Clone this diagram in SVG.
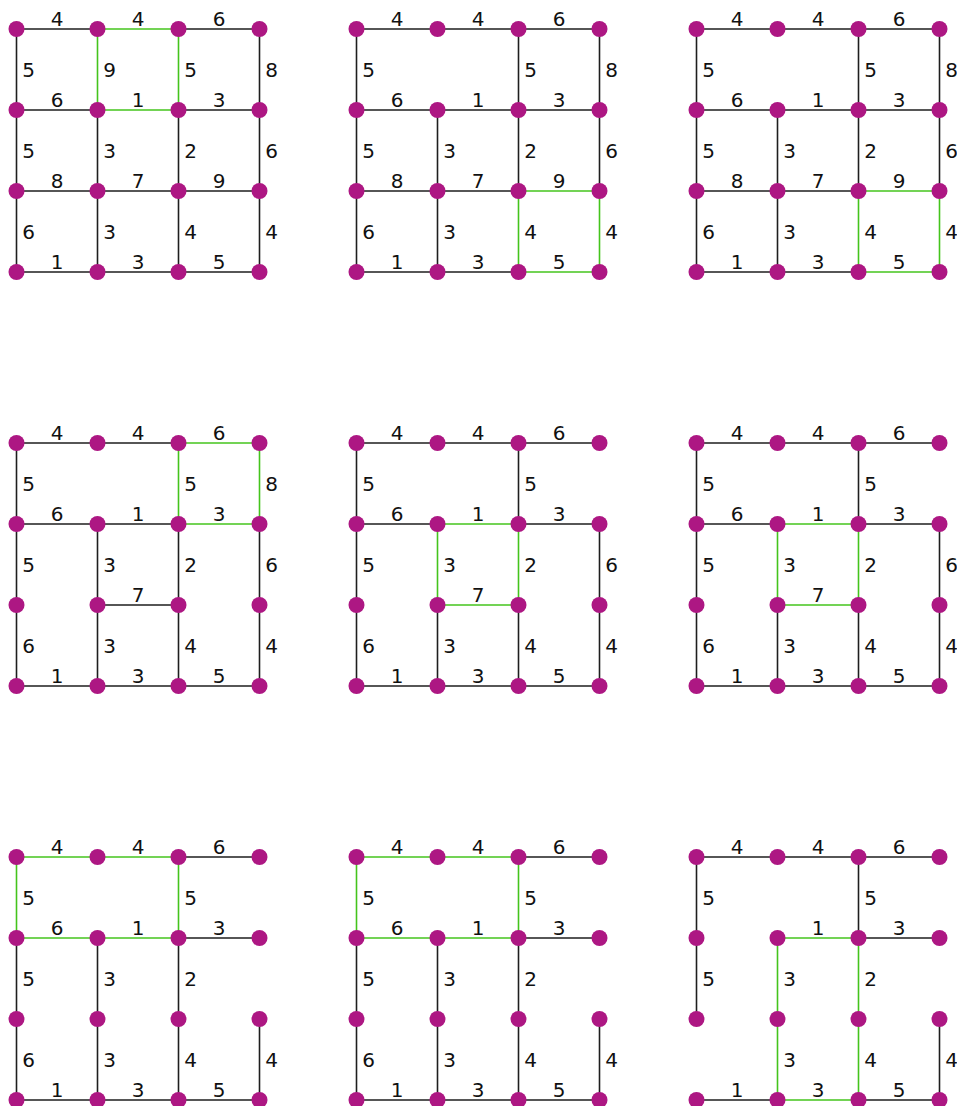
<svg xmlns="http://www.w3.org/2000/svg" width="957" height="1106" viewBox="0 0 957 1106">
<style>
.e{stroke:#1e1e1e;stroke-width:1.6;fill:none}
.g{stroke:#44c41c;stroke-width:1.6;fill:none}
.n{fill:#ad1783}
text{font-family:"DejaVu Sans","Liberation Sans",sans-serif;font-size:20px;fill:#111;text-anchor:middle}
</style>
<rect width="957" height="1106" fill="#fff"/>

<!-- Panel 1 -->
<g id="panel1" transform="translate(0,0)">
<g id="p1-connectors">
<path class="e" d="M16.5 29H97.5"/><text x="57" y="26">4</text>
<path class="g" d="M97.5 29H178.5"/><text x="138" y="26">4</text>
<path class="e" d="M178.5 29H259.5"/><text x="219" y="26">6</text>
<path class="e" d="M16.5 110H97.5"/><text x="57" y="107">6</text>
<path class="g" d="M97.5 110H178.5"/><text x="138" y="107">1</text>
<path class="e" d="M178.5 110H259.5"/><text x="219" y="107">3</text>
<path class="e" d="M16.5 191H97.5"/><text x="57" y="188">8</text>
<path class="e" d="M97.5 191H178.5"/><text x="138" y="188">7</text>
<path class="e" d="M178.5 191H259.5"/><text x="219" y="188">9</text>
<path class="e" d="M16.5 272H97.5"/><text x="57" y="269">1</text>
<path class="e" d="M97.5 272H178.5"/><text x="138" y="269">3</text>
<path class="e" d="M178.5 272H259.5"/><text x="219" y="269">5</text>
<path class="e" d="M16.5 29V110"/><text x="28.5" y="76.5">5</text>
<path class="g" d="M97.5 29V110"/><text x="109.5" y="76.5">9</text>
<path class="g" d="M178.5 29V110"/><text x="190.5" y="76.5">5</text>
<path class="e" d="M259.5 29V110"/><text x="271.5" y="76.5">8</text>
<path class="e" d="M16.5 110V191"/><text x="28.5" y="157.5">5</text>
<path class="e" d="M97.5 110V191"/><text x="109.5" y="157.5">3</text>
<path class="e" d="M178.5 110V191"/><text x="190.5" y="157.5">2</text>
<path class="e" d="M259.5 110V191"/><text x="271.5" y="157.5">6</text>
<path class="e" d="M16.5 191V272"/><text x="28.5" y="238.5">6</text>
<path class="e" d="M97.5 191V272"/><text x="109.5" y="238.5">3</text>
<path class="e" d="M178.5 191V272"/><text x="190.5" y="238.5">4</text>
<path class="e" d="M259.5 191V272"/><text x="271.5" y="238.5">4</text>
</g>
<g id="p1-n00"><circle class="n" cx="16.5" cy="29" r="8"/></g>
<g id="p1-n01"><circle class="n" cx="97.5" cy="29" r="8"/></g>
<g id="p1-n02"><circle class="n" cx="178.5" cy="29" r="8"/></g>
<g id="p1-n03"><circle class="n" cx="259.5" cy="29" r="8"/></g>
<g id="p1-n10"><circle class="n" cx="16.5" cy="110" r="8"/></g>
<g id="p1-n11"><circle class="n" cx="97.5" cy="110" r="8"/></g>
<g id="p1-n12"><circle class="n" cx="178.5" cy="110" r="8"/></g>
<g id="p1-n13"><circle class="n" cx="259.5" cy="110" r="8"/></g>
<g id="p1-n20"><circle class="n" cx="16.5" cy="191" r="8"/></g>
<g id="p1-n21"><circle class="n" cx="97.5" cy="191" r="8"/></g>
<g id="p1-n22"><circle class="n" cx="178.5" cy="191" r="8"/></g>
<g id="p1-n23"><circle class="n" cx="259.5" cy="191" r="8"/></g>
<g id="p1-n30"><circle class="n" cx="16.5" cy="272" r="8"/></g>
<g id="p1-n31"><circle class="n" cx="97.5" cy="272" r="8"/></g>
<g id="p1-n32"><circle class="n" cx="178.5" cy="272" r="8"/></g>
<g id="p1-n33"><circle class="n" cx="259.5" cy="272" r="8"/></g>
</g>

<!-- Panel 2 -->
<g id="panel2" transform="translate(340,0)">
<g id="p2-connectors">
<path class="e" d="M16.5 29H97.5"/><text x="57" y="26">4</text>
<path class="e" d="M97.5 29H178.5"/><text x="138" y="26">4</text>
<path class="e" d="M178.5 29H259.5"/><text x="219" y="26">6</text>
<path class="e" d="M16.5 110H97.5"/><text x="57" y="107">6</text>
<path class="e" d="M97.5 110H178.5"/><text x="138" y="107">1</text>
<path class="e" d="M178.5 110H259.5"/><text x="219" y="107">3</text>
<path class="e" d="M16.5 191H97.5"/><text x="57" y="188">8</text>
<path class="e" d="M97.5 191H178.5"/><text x="138" y="188">7</text>
<path class="g" d="M178.5 191H259.5"/><text x="219" y="188">9</text>
<path class="e" d="M16.5 272H97.5"/><text x="57" y="269">1</text>
<path class="e" d="M97.5 272H178.5"/><text x="138" y="269">3</text>
<path class="g" d="M178.5 272H259.5"/><text x="219" y="269">5</text>
<path class="e" d="M16.5 29V110"/><text x="28.5" y="76.5">5</text>
<path class="e" d="M178.5 29V110"/><text x="190.5" y="76.5">5</text>
<path class="e" d="M259.5 29V110"/><text x="271.5" y="76.5">8</text>
<path class="e" d="M16.5 110V191"/><text x="28.5" y="157.5">5</text>
<path class="e" d="M97.5 110V191"/><text x="109.5" y="157.5">3</text>
<path class="e" d="M178.5 110V191"/><text x="190.5" y="157.5">2</text>
<path class="e" d="M259.5 110V191"/><text x="271.5" y="157.5">6</text>
<path class="e" d="M16.5 191V272"/><text x="28.5" y="238.5">6</text>
<path class="e" d="M97.5 191V272"/><text x="109.5" y="238.5">3</text>
<path class="g" d="M178.5 191V272"/><text x="190.5" y="238.5">4</text>
<path class="g" d="M259.5 191V272"/><text x="271.5" y="238.5">4</text>
</g>
<g id="p2-n00"><circle class="n" cx="16.5" cy="29" r="8"/></g>
<g id="p2-n01"><circle class="n" cx="97.5" cy="29" r="8"/></g>
<g id="p2-n02"><circle class="n" cx="178.5" cy="29" r="8"/></g>
<g id="p2-n03"><circle class="n" cx="259.5" cy="29" r="8"/></g>
<g id="p2-n10"><circle class="n" cx="16.5" cy="110" r="8"/></g>
<g id="p2-n11"><circle class="n" cx="97.5" cy="110" r="8"/></g>
<g id="p2-n12"><circle class="n" cx="178.5" cy="110" r="8"/></g>
<g id="p2-n13"><circle class="n" cx="259.5" cy="110" r="8"/></g>
<g id="p2-n20"><circle class="n" cx="16.5" cy="191" r="8"/></g>
<g id="p2-n21"><circle class="n" cx="97.5" cy="191" r="8"/></g>
<g id="p2-n22"><circle class="n" cx="178.5" cy="191" r="8"/></g>
<g id="p2-n23"><circle class="n" cx="259.5" cy="191" r="8"/></g>
<g id="p2-n30"><circle class="n" cx="16.5" cy="272" r="8"/></g>
<g id="p2-n31"><circle class="n" cx="97.5" cy="272" r="8"/></g>
<g id="p2-n32"><circle class="n" cx="178.5" cy="272" r="8"/></g>
<g id="p2-n33"><circle class="n" cx="259.5" cy="272" r="8"/></g>
</g>

<!-- Panel 3 -->
<g id="panel3" transform="translate(680,0)">
<g id="p3-connectors">
<path class="e" d="M16.5 29H97.5"/><text x="57" y="26">4</text>
<path class="e" d="M97.5 29H178.5"/><text x="138" y="26">4</text>
<path class="e" d="M178.5 29H259.5"/><text x="219" y="26">6</text>
<path class="e" d="M16.5 110H97.5"/><text x="57" y="107">6</text>
<path class="e" d="M97.5 110H178.5"/><text x="138" y="107">1</text>
<path class="e" d="M178.5 110H259.5"/><text x="219" y="107">3</text>
<path class="e" d="M16.5 191H97.5"/><text x="57" y="188">8</text>
<path class="e" d="M97.5 191H178.5"/><text x="138" y="188">7</text>
<path class="g" d="M178.5 191H259.5"/><text x="219" y="188">9</text>
<path class="e" d="M16.5 272H97.5"/><text x="57" y="269">1</text>
<path class="e" d="M97.5 272H178.5"/><text x="138" y="269">3</text>
<path class="g" d="M178.5 272H259.5"/><text x="219" y="269">5</text>
<path class="e" d="M16.5 29V110"/><text x="28.5" y="76.5">5</text>
<path class="e" d="M178.5 29V110"/><text x="190.5" y="76.5">5</text>
<path class="e" d="M259.5 29V110"/><text x="271.5" y="76.5">8</text>
<path class="e" d="M16.5 110V191"/><text x="28.5" y="157.5">5</text>
<path class="e" d="M97.5 110V191"/><text x="109.5" y="157.5">3</text>
<path class="e" d="M178.5 110V191"/><text x="190.5" y="157.5">2</text>
<path class="e" d="M259.5 110V191"/><text x="271.5" y="157.5">6</text>
<path class="e" d="M16.5 191V272"/><text x="28.5" y="238.5">6</text>
<path class="e" d="M97.5 191V272"/><text x="109.5" y="238.5">3</text>
<path class="g" d="M178.5 191V272"/><text x="190.5" y="238.5">4</text>
<path class="g" d="M259.5 191V272"/><text x="271.5" y="238.5">4</text>
</g>
<g id="p3-n00"><circle class="n" cx="16.5" cy="29" r="8"/></g>
<g id="p3-n01"><circle class="n" cx="97.5" cy="29" r="8"/></g>
<g id="p3-n02"><circle class="n" cx="178.5" cy="29" r="8"/></g>
<g id="p3-n03"><circle class="n" cx="259.5" cy="29" r="8"/></g>
<g id="p3-n10"><circle class="n" cx="16.5" cy="110" r="8"/></g>
<g id="p3-n11"><circle class="n" cx="97.5" cy="110" r="8"/></g>
<g id="p3-n12"><circle class="n" cx="178.5" cy="110" r="8"/></g>
<g id="p3-n13"><circle class="n" cx="259.5" cy="110" r="8"/></g>
<g id="p3-n20"><circle class="n" cx="16.5" cy="191" r="8"/></g>
<g id="p3-n21"><circle class="n" cx="97.5" cy="191" r="8"/></g>
<g id="p3-n22"><circle class="n" cx="178.5" cy="191" r="8"/></g>
<g id="p3-n23"><circle class="n" cx="259.5" cy="191" r="8"/></g>
<g id="p3-n30"><circle class="n" cx="16.5" cy="272" r="8"/></g>
<g id="p3-n31"><circle class="n" cx="97.5" cy="272" r="8"/></g>
<g id="p3-n32"><circle class="n" cx="178.5" cy="272" r="8"/></g>
<g id="p3-n33"><circle class="n" cx="259.5" cy="272" r="8"/></g>
</g>

<!-- Panel 4 -->
<g id="panel4" transform="translate(0,414)">
<g id="p4-connectors">
<path class="e" d="M16.5 29H97.5"/><text x="57" y="26">4</text>
<path class="e" d="M97.5 29H178.5"/><text x="138" y="26">4</text>
<path class="g" d="M178.5 29H259.5"/><text x="219" y="26">6</text>
<path class="e" d="M16.5 110H97.5"/><text x="57" y="107">6</text>
<path class="e" d="M97.5 110H178.5"/><text x="138" y="107">1</text>
<path class="g" d="M178.5 110H259.5"/><text x="219" y="107">3</text>
<path class="e" d="M97.5 191H178.5"/><text x="138" y="188">7</text>
<path class="e" d="M16.5 272H97.5"/><text x="57" y="269">1</text>
<path class="e" d="M97.5 272H178.5"/><text x="138" y="269">3</text>
<path class="e" d="M178.5 272H259.5"/><text x="219" y="269">5</text>
<path class="e" d="M16.5 29V110"/><text x="28.5" y="76.5">5</text>
<path class="g" d="M178.5 29V110"/><text x="190.5" y="76.5">5</text>
<path class="g" d="M259.5 29V110"/><text x="271.5" y="76.5">8</text>
<path class="e" d="M16.5 110V191"/><text x="28.5" y="157.5">5</text>
<path class="e" d="M97.5 110V191"/><text x="109.5" y="157.5">3</text>
<path class="e" d="M178.5 110V191"/><text x="190.5" y="157.5">2</text>
<path class="e" d="M259.5 110V191"/><text x="271.5" y="157.5">6</text>
<path class="e" d="M16.5 191V272"/><text x="28.5" y="238.5">6</text>
<path class="e" d="M97.5 191V272"/><text x="109.5" y="238.5">3</text>
<path class="e" d="M178.5 191V272"/><text x="190.5" y="238.5">4</text>
<path class="e" d="M259.5 191V272"/><text x="271.5" y="238.5">4</text>
</g>
<g id="p4-n00"><circle class="n" cx="16.5" cy="29" r="8"/></g>
<g id="p4-n01"><circle class="n" cx="97.5" cy="29" r="8"/></g>
<g id="p4-n02"><circle class="n" cx="178.5" cy="29" r="8"/></g>
<g id="p4-n03"><circle class="n" cx="259.5" cy="29" r="8"/></g>
<g id="p4-n10"><circle class="n" cx="16.5" cy="110" r="8"/></g>
<g id="p4-n11"><circle class="n" cx="97.5" cy="110" r="8"/></g>
<g id="p4-n12"><circle class="n" cx="178.5" cy="110" r="8"/></g>
<g id="p4-n13"><circle class="n" cx="259.5" cy="110" r="8"/></g>
<g id="p4-n20"><circle class="n" cx="16.5" cy="191" r="8"/></g>
<g id="p4-n21"><circle class="n" cx="97.5" cy="191" r="8"/></g>
<g id="p4-n22"><circle class="n" cx="178.5" cy="191" r="8"/></g>
<g id="p4-n23"><circle class="n" cx="259.5" cy="191" r="8"/></g>
<g id="p4-n30"><circle class="n" cx="16.5" cy="272" r="8"/></g>
<g id="p4-n31"><circle class="n" cx="97.5" cy="272" r="8"/></g>
<g id="p4-n32"><circle class="n" cx="178.5" cy="272" r="8"/></g>
<g id="p4-n33"><circle class="n" cx="259.5" cy="272" r="8"/></g>
</g>

<!-- Panel 5 -->
<g id="panel5" transform="translate(340,414)">
<g id="p5-connectors">
<path class="e" d="M16.5 29H97.5"/><text x="57" y="26">4</text>
<path class="e" d="M97.5 29H178.5"/><text x="138" y="26">4</text>
<path class="e" d="M178.5 29H259.5"/><text x="219" y="26">6</text>
<path class="e" d="M16.5 110H97.5"/><text x="57" y="107">6</text>
<path class="g" d="M97.5 110H178.5"/><text x="138" y="107">1</text>
<path class="e" d="M178.5 110H259.5"/><text x="219" y="107">3</text>
<path class="g" d="M97.5 191H178.5"/><text x="138" y="188">7</text>
<path class="e" d="M16.5 272H97.5"/><text x="57" y="269">1</text>
<path class="e" d="M97.5 272H178.5"/><text x="138" y="269">3</text>
<path class="e" d="M178.5 272H259.5"/><text x="219" y="269">5</text>
<path class="e" d="M16.5 29V110"/><text x="28.5" y="76.5">5</text>
<path class="e" d="M178.5 29V110"/><text x="190.5" y="76.5">5</text>
<path class="e" d="M16.5 110V191"/><text x="28.5" y="157.5">5</text>
<path class="g" d="M97.5 110V191"/><text x="109.5" y="157.5">3</text>
<path class="g" d="M178.5 110V191"/><text x="190.5" y="157.5">2</text>
<path class="e" d="M259.5 110V191"/><text x="271.5" y="157.5">6</text>
<path class="e" d="M16.5 191V272"/><text x="28.5" y="238.5">6</text>
<path class="e" d="M97.5 191V272"/><text x="109.5" y="238.5">3</text>
<path class="e" d="M178.5 191V272"/><text x="190.5" y="238.5">4</text>
<path class="e" d="M259.5 191V272"/><text x="271.5" y="238.5">4</text>
</g>
<g id="p5-n00"><circle class="n" cx="16.5" cy="29" r="8"/></g>
<g id="p5-n01"><circle class="n" cx="97.5" cy="29" r="8"/></g>
<g id="p5-n02"><circle class="n" cx="178.5" cy="29" r="8"/></g>
<g id="p5-n03"><circle class="n" cx="259.5" cy="29" r="8"/></g>
<g id="p5-n10"><circle class="n" cx="16.5" cy="110" r="8"/></g>
<g id="p5-n11"><circle class="n" cx="97.5" cy="110" r="8"/></g>
<g id="p5-n12"><circle class="n" cx="178.5" cy="110" r="8"/></g>
<g id="p5-n13"><circle class="n" cx="259.5" cy="110" r="8"/></g>
<g id="p5-n20"><circle class="n" cx="16.5" cy="191" r="8"/></g>
<g id="p5-n21"><circle class="n" cx="97.5" cy="191" r="8"/></g>
<g id="p5-n22"><circle class="n" cx="178.5" cy="191" r="8"/></g>
<g id="p5-n23"><circle class="n" cx="259.5" cy="191" r="8"/></g>
<g id="p5-n30"><circle class="n" cx="16.5" cy="272" r="8"/></g>
<g id="p5-n31"><circle class="n" cx="97.5" cy="272" r="8"/></g>
<g id="p5-n32"><circle class="n" cx="178.5" cy="272" r="8"/></g>
<g id="p5-n33"><circle class="n" cx="259.5" cy="272" r="8"/></g>
</g>

<!-- Panel 6 -->
<g id="panel6" transform="translate(680,414)">
<g id="p6-connectors">
<path class="e" d="M16.5 29H97.5"/><text x="57" y="26">4</text>
<path class="e" d="M97.5 29H178.5"/><text x="138" y="26">4</text>
<path class="e" d="M178.5 29H259.5"/><text x="219" y="26">6</text>
<path class="e" d="M16.5 110H97.5"/><text x="57" y="107">6</text>
<path class="g" d="M97.5 110H178.5"/><text x="138" y="107">1</text>
<path class="e" d="M178.5 110H259.5"/><text x="219" y="107">3</text>
<path class="g" d="M97.5 191H178.5"/><text x="138" y="188">7</text>
<path class="e" d="M16.5 272H97.5"/><text x="57" y="269">1</text>
<path class="e" d="M97.5 272H178.5"/><text x="138" y="269">3</text>
<path class="e" d="M178.5 272H259.5"/><text x="219" y="269">5</text>
<path class="e" d="M16.5 29V110"/><text x="28.5" y="76.5">5</text>
<path class="e" d="M178.5 29V110"/><text x="190.5" y="76.5">5</text>
<path class="e" d="M16.5 110V191"/><text x="28.5" y="157.5">5</text>
<path class="g" d="M97.5 110V191"/><text x="109.5" y="157.5">3</text>
<path class="g" d="M178.5 110V191"/><text x="190.5" y="157.5">2</text>
<path class="e" d="M259.5 110V191"/><text x="271.5" y="157.5">6</text>
<path class="e" d="M16.5 191V272"/><text x="28.5" y="238.5">6</text>
<path class="e" d="M97.5 191V272"/><text x="109.5" y="238.5">3</text>
<path class="e" d="M178.5 191V272"/><text x="190.5" y="238.5">4</text>
<path class="e" d="M259.5 191V272"/><text x="271.5" y="238.5">4</text>
</g>
<g id="p6-n00"><circle class="n" cx="16.5" cy="29" r="8"/></g>
<g id="p6-n01"><circle class="n" cx="97.5" cy="29" r="8"/></g>
<g id="p6-n02"><circle class="n" cx="178.5" cy="29" r="8"/></g>
<g id="p6-n03"><circle class="n" cx="259.5" cy="29" r="8"/></g>
<g id="p6-n10"><circle class="n" cx="16.5" cy="110" r="8"/></g>
<g id="p6-n11"><circle class="n" cx="97.5" cy="110" r="8"/></g>
<g id="p6-n12"><circle class="n" cx="178.5" cy="110" r="8"/></g>
<g id="p6-n13"><circle class="n" cx="259.5" cy="110" r="8"/></g>
<g id="p6-n20"><circle class="n" cx="16.5" cy="191" r="8"/></g>
<g id="p6-n21"><circle class="n" cx="97.5" cy="191" r="8"/></g>
<g id="p6-n22"><circle class="n" cx="178.5" cy="191" r="8"/></g>
<g id="p6-n23"><circle class="n" cx="259.5" cy="191" r="8"/></g>
<g id="p6-n30"><circle class="n" cx="16.5" cy="272" r="8"/></g>
<g id="p6-n31"><circle class="n" cx="97.5" cy="272" r="8"/></g>
<g id="p6-n32"><circle class="n" cx="178.5" cy="272" r="8"/></g>
<g id="p6-n33"><circle class="n" cx="259.5" cy="272" r="8"/></g>
</g>

<!-- Panel 7 -->
<g id="panel7" transform="translate(0,828)">
<g id="p7-connectors">
<path class="g" d="M16.5 29H97.5"/><text x="57" y="26">4</text>
<path class="g" d="M97.5 29H178.5"/><text x="138" y="26">4</text>
<path class="e" d="M178.5 29H259.5"/><text x="219" y="26">6</text>
<path class="g" d="M16.5 110H97.5"/><text x="57" y="107">6</text>
<path class="g" d="M97.5 110H178.5"/><text x="138" y="107">1</text>
<path class="e" d="M178.5 110H259.5"/><text x="219" y="107">3</text>
<path class="e" d="M16.5 272H97.5"/><text x="57" y="269">1</text>
<path class="e" d="M97.5 272H178.5"/><text x="138" y="269">3</text>
<path class="e" d="M178.5 272H259.5"/><text x="219" y="269">5</text>
<path class="g" d="M16.5 29V110"/><text x="28.5" y="76.5">5</text>
<path class="g" d="M178.5 29V110"/><text x="190.5" y="76.5">5</text>
<path class="e" d="M16.5 110V191"/><text x="28.5" y="157.5">5</text>
<path class="e" d="M97.5 110V191"/><text x="109.5" y="157.5">3</text>
<path class="e" d="M178.5 110V191"/><text x="190.5" y="157.5">2</text>
<path class="e" d="M16.5 191V272"/><text x="28.5" y="238.5">6</text>
<path class="e" d="M97.5 191V272"/><text x="109.5" y="238.5">3</text>
<path class="e" d="M178.5 191V272"/><text x="190.5" y="238.5">4</text>
<path class="e" d="M259.5 191V272"/><text x="271.5" y="238.5">4</text>
</g>
<g id="p7-n00"><circle class="n" cx="16.5" cy="29" r="8"/></g>
<g id="p7-n01"><circle class="n" cx="97.5" cy="29" r="8"/></g>
<g id="p7-n02"><circle class="n" cx="178.5" cy="29" r="8"/></g>
<g id="p7-n03"><circle class="n" cx="259.5" cy="29" r="8"/></g>
<g id="p7-n10"><circle class="n" cx="16.5" cy="110" r="8"/></g>
<g id="p7-n11"><circle class="n" cx="97.5" cy="110" r="8"/></g>
<g id="p7-n12"><circle class="n" cx="178.5" cy="110" r="8"/></g>
<g id="p7-n13"><circle class="n" cx="259.5" cy="110" r="8"/></g>
<g id="p7-n20"><circle class="n" cx="16.5" cy="191" r="8"/></g>
<g id="p7-n21"><circle class="n" cx="97.5" cy="191" r="8"/></g>
<g id="p7-n22"><circle class="n" cx="178.5" cy="191" r="8"/></g>
<g id="p7-n23"><circle class="n" cx="259.5" cy="191" r="8"/></g>
<g id="p7-n30"><circle class="n" cx="16.5" cy="272" r="8"/></g>
<g id="p7-n31"><circle class="n" cx="97.5" cy="272" r="8"/></g>
<g id="p7-n32"><circle class="n" cx="178.5" cy="272" r="8"/></g>
<g id="p7-n33"><circle class="n" cx="259.5" cy="272" r="8"/></g>
</g>

<!-- Panel 8 -->
<g id="panel8" transform="translate(340,828)">
<g id="p8-connectors">
<path class="g" d="M16.5 29H97.5"/><text x="57" y="26">4</text>
<path class="g" d="M97.5 29H178.5"/><text x="138" y="26">4</text>
<path class="e" d="M178.5 29H259.5"/><text x="219" y="26">6</text>
<path class="g" d="M16.5 110H97.5"/><text x="57" y="107">6</text>
<path class="g" d="M97.5 110H178.5"/><text x="138" y="107">1</text>
<path class="e" d="M178.5 110H259.5"/><text x="219" y="107">3</text>
<path class="e" d="M16.5 272H97.5"/><text x="57" y="269">1</text>
<path class="e" d="M97.5 272H178.5"/><text x="138" y="269">3</text>
<path class="e" d="M178.5 272H259.5"/><text x="219" y="269">5</text>
<path class="g" d="M16.5 29V110"/><text x="28.5" y="76.5">5</text>
<path class="g" d="M178.5 29V110"/><text x="190.5" y="76.5">5</text>
<path class="e" d="M16.5 110V191"/><text x="28.5" y="157.5">5</text>
<path class="e" d="M97.5 110V191"/><text x="109.5" y="157.5">3</text>
<path class="e" d="M178.5 110V191"/><text x="190.5" y="157.5">2</text>
<path class="e" d="M16.5 191V272"/><text x="28.5" y="238.5">6</text>
<path class="e" d="M97.5 191V272"/><text x="109.5" y="238.5">3</text>
<path class="e" d="M178.5 191V272"/><text x="190.5" y="238.5">4</text>
<path class="e" d="M259.5 191V272"/><text x="271.5" y="238.5">4</text>
</g>
<g id="p8-n00"><circle class="n" cx="16.5" cy="29" r="8"/></g>
<g id="p8-n01"><circle class="n" cx="97.5" cy="29" r="8"/></g>
<g id="p8-n02"><circle class="n" cx="178.5" cy="29" r="8"/></g>
<g id="p8-n03"><circle class="n" cx="259.5" cy="29" r="8"/></g>
<g id="p8-n10"><circle class="n" cx="16.5" cy="110" r="8"/></g>
<g id="p8-n11"><circle class="n" cx="97.5" cy="110" r="8"/></g>
<g id="p8-n12"><circle class="n" cx="178.5" cy="110" r="8"/></g>
<g id="p8-n13"><circle class="n" cx="259.5" cy="110" r="8"/></g>
<g id="p8-n20"><circle class="n" cx="16.5" cy="191" r="8"/></g>
<g id="p8-n21"><circle class="n" cx="97.5" cy="191" r="8"/></g>
<g id="p8-n22"><circle class="n" cx="178.5" cy="191" r="8"/></g>
<g id="p8-n23"><circle class="n" cx="259.5" cy="191" r="8"/></g>
<g id="p8-n30"><circle class="n" cx="16.5" cy="272" r="8"/></g>
<g id="p8-n31"><circle class="n" cx="97.5" cy="272" r="8"/></g>
<g id="p8-n32"><circle class="n" cx="178.5" cy="272" r="8"/></g>
<g id="p8-n33"><circle class="n" cx="259.5" cy="272" r="8"/></g>
</g>

<!-- Panel 9 -->
<g id="panel9" transform="translate(680,828)">
<g id="p9-connectors">
<path class="e" d="M16.5 29H97.5"/><text x="57" y="26">4</text>
<path class="e" d="M97.5 29H178.5"/><text x="138" y="26">4</text>
<path class="e" d="M178.5 29H259.5"/><text x="219" y="26">6</text>
<path class="g" d="M97.5 110H178.5"/><text x="138" y="107">1</text>
<path class="e" d="M178.5 110H259.5"/><text x="219" y="107">3</text>
<path class="e" d="M16.5 272H97.5"/><text x="57" y="269">1</text>
<path class="g" d="M97.5 272H178.5"/><text x="138" y="269">3</text>
<path class="e" d="M178.5 272H259.5"/><text x="219" y="269">5</text>
<path class="e" d="M16.5 29V110"/><text x="28.5" y="76.5">5</text>
<path class="e" d="M178.5 29V110"/><text x="190.5" y="76.5">5</text>
<path class="e" d="M16.5 110V191"/><text x="28.5" y="157.5">5</text>
<path class="g" d="M97.5 110V191"/><text x="109.5" y="157.5">3</text>
<path class="g" d="M178.5 110V191"/><text x="190.5" y="157.5">2</text>
<path class="g" d="M97.5 191V272"/><text x="109.5" y="238.5">3</text>
<path class="g" d="M178.5 191V272"/><text x="190.5" y="238.5">4</text>
<path class="e" d="M259.5 191V272"/><text x="271.5" y="238.5">4</text>
</g>
<g id="p9-n00"><circle class="n" cx="16.5" cy="29" r="8"/></g>
<g id="p9-n01"><circle class="n" cx="97.5" cy="29" r="8"/></g>
<g id="p9-n02"><circle class="n" cx="178.5" cy="29" r="8"/></g>
<g id="p9-n03"><circle class="n" cx="259.5" cy="29" r="8"/></g>
<g id="p9-n10"><circle class="n" cx="16.5" cy="110" r="8"/></g>
<g id="p9-n11"><circle class="n" cx="97.5" cy="110" r="8"/></g>
<g id="p9-n12"><circle class="n" cx="178.5" cy="110" r="8"/></g>
<g id="p9-n13"><circle class="n" cx="259.5" cy="110" r="8"/></g>
<g id="p9-n20"><circle class="n" cx="16.5" cy="191" r="8"/></g>
<g id="p9-n21"><circle class="n" cx="97.5" cy="191" r="8"/></g>
<g id="p9-n22"><circle class="n" cx="178.5" cy="191" r="8"/></g>
<g id="p9-n23"><circle class="n" cx="259.5" cy="191" r="8"/></g>
<g id="p9-n30"><circle class="n" cx="16.5" cy="272" r="8"/></g>
<g id="p9-n31"><circle class="n" cx="97.5" cy="272" r="8"/></g>
<g id="p9-n32"><circle class="n" cx="178.5" cy="272" r="8"/></g>
<g id="p9-n33"><circle class="n" cx="259.5" cy="272" r="8"/></g>
</g>
</svg>
